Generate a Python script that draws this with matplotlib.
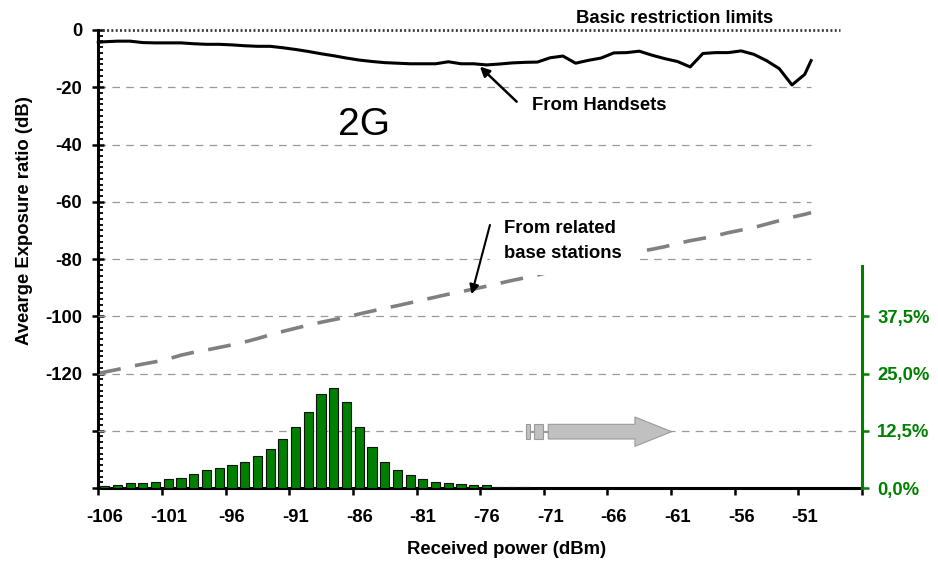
import numpy as np
import matplotlib
matplotlib.use("Agg")
import matplotlib.pyplot as plt
from matplotlib.patches import Polygon, Rectangle
from matplotlib.ticker import FixedLocator, MultipleLocator, NullFormatter

plt.rcParams['font.family'] = ['Liberation Sans', 'DejaVu Sans']
plt.rcParams['lines.scale_dashes'] = False

# ---- data -------------------------------------------------------------
# 1 dBm received-power bins (lower edge) and share of samples per bin (%)
power_bins = np.arange(-106, -46)
share_pct = [0.52, 0.74, 1.04, 1.04, 1.34, 1.86, 2.08, 3.13, 3.94, 4.39,
             4.99, 5.73, 6.99, 8.56, 10.64, 13.24, 16.67, 20.6, 21.9, 18.75,
             13.24, 8.85, 5.6, 3.87, 2.9, 2.0, 1.34, 1.04, 0.78, 0.6,
             0.6, 0.3, 0.22, 0.22, 0.1, 0.08, 0.06, 0.05, 0.04, 0.03,
             0.02]
share_pct = share_pct + [0.0] * (len(power_bins) - len(share_pct))

# exposure ratio curves (dB) vs received power (dBm)
line_x = [-106.0] + list(np.arange(-105.5, -50.0, 1.0)) + [-50.0]
handset_db = [-4.3,
              -4.1, -3.9, -3.9, -4.4, -4.5, -4.5, -4.5, -4.8, -5.0, -5.0,
              -5.2, -5.5, -5.7, -5.7, -6.2, -6.8, -7.5, -8.3, -9.0, -9.8,
              -10.5, -11.0, -11.4, -11.6, -11.8, -11.8, -11.8, -11.1, -11.8, -11.8,
              -12.2, -11.9, -11.5, -11.3, -11.2, -9.7, -9.1, -11.6, -10.6, -9.8,
              -8.0, -7.9, -7.4, -8.8, -10.0, -11.0, -12.9, -8.2, -7.9, -7.9,
              -7.3, -8.5, -10.7, -13.5, -19.2, -15.5,
              -10.7]
base_db = [-120.0,
           -119.5, -118.6, -117.6, -116.7, -115.9, -114.9, -113.6, -112.6, -111.8, -110.9,
           -110.0, -109.0, -107.8, -106.5, -105.3, -104.2, -103.1, -102.1, -101.2, -100.3,
           -99.2, -98.2, -97.2, -96.3, -95.3, -94.3, -93.3, -92.3, -91.4, -90.5,
           -89.5, -88.5, -87.5, -86.6, -85.6, -84.5, -83.3, -82.2, -81.1, -80.0,
           -79.0, -78.2, -77.4, -76.6, -75.7, -74.6, -73.6, -72.8, -71.9, -70.8,
           -69.9, -69.0, -67.8, -66.6, -65.4, -64.4,
           -63.8]
limit_db = 0.0
limit_x = [-106.0, -47.7]

x_tick_edges = np.arange(-106, -45, 5)
x_tick_labels = [str(v) for v in range(-106, -50, 5)]
y_ticks = np.arange(-160, 1, 20)
y_tick_labels = ['', '', '-120', '-100', '-80', '-60', '-40', '-20', '0']
pct_ticks = [0, 12.5, 25, 37.5]
pct_tick_labels = ['0,0%', '12,5%', '25,0%', '37,5%']

GREEN = '#008000'
FS = 13.3

# ---- figure -------------------------------------------------------------
fig = plt.figure(figsize=(9.38, 5.69), dpi=100)
ax = fig.add_axes([98.3 / 938, (569 - 488) / 569, 763.7 / 938, 458 / 569])
ax2 = ax.twinx()
ax.set_xlim(-106, -46)
ax.set_ylim(-160, 0)
ax2.set_ylim(0, 100)

ax.patch.set_visible(False)

# grid lines of the exposure chart
ax.hlines([-20, -40, -60, -80], -106, -50, colors='#999999',
          linestyles=(0, (5.5, 4.5)), lw=0.9, zorder=1)
# grid lines of the histogram
ax2.hlines(pct_ticks[1:], -106, -46, colors='#999999',
           linestyles=(0, (5.5, 4.5)), lw=0.9, zorder=1)

# histogram
ax2.bar(power_bins + 0.5, share_pct, width=0.72, color=GREEN,
        edgecolor='#111111', lw=0.8, zorder=3)

# curves
ax.hlines(limit_db, limit_x[0], limit_x[1], colors='#3a3a3a',
          linestyles=(0, (1.4, 1.7)), lw=2.0, zorder=4, clip_on=False)
ax.plot(line_x, handset_db, color='black', lw=2.2, zorder=5,
        solid_joinstyle='round', clip_on=False)
ax.plot(line_x, base_db, color='#808080', lw=2.6, zorder=5,
        linestyle=(0, (16.5, 10.5)), clip_on=False)

# spines
for s in ['top', 'right']:
    ax.spines[s].set_visible(False)
for s in ['top', 'left', 'bottom']:
    ax2.spines[s].set_visible(False)
ax.spines['left'].set_linewidth(2.2)
ax.spines['bottom'].set_linewidth(2.2)
ax.spines['left'].set_zorder(6)
ax.spines['bottom'].set_zorder(6)
ax2.spines['right'].set_color(GREEN)
ax2.spines['right'].set_linewidth(2.2)
ax2.spines['right'].set_bounds(0, 48.4)

# y ticks (dB)
ax.yaxis.set_major_locator(FixedLocator(y_ticks))
ax.set_yticklabels(y_tick_labels)
ax.yaxis.set_minor_locator(MultipleLocator(2))
ax.tick_params(axis='y', which='major', direction='inout', length=8, width=1.8,
               pad=7.5, labelsize=FS)
ax.tick_params(axis='y', which='minor', direction='in', length=3.5, width=1.3)

# x ticks: marks at bin edges, labels at bin centres
ax.xaxis.set_major_locator(FixedLocator(x_tick_edges))
ax.xaxis.set_major_formatter(NullFormatter())
ax.xaxis.set_minor_locator(FixedLocator(np.arange(-106, -50, 5) + 0.5))
ax.set_xticklabels(x_tick_labels, minor=True)
ax.tick_params(axis='x', which='major', direction='out', length=5, width=1.8)
ax.tick_params(axis='x', which='minor', length=0, pad=15, labelsize=FS)

for lab in ax.get_yticklabels() + ax.get_xticklabels(minor=True):
    lab.set_fontweight('bold')

# percentage ticks
ax2.yaxis.set_major_locator(FixedLocator(pct_ticks))
ax2.set_yticklabels(pct_tick_labels)
ax2.tick_params(axis='y', which='major', direction='out', length=5, width=1.8,
                color=GREEN, labelcolor=GREEN, pad=6, labelsize=FS)
for lab in ax2.get_yticklabels():
    lab.set_fontweight('bold')

# axis titles
fig.text(507 / 938, 1 - 550 / 569, 'Received power (dBm)', ha='center',
         va='center', fontsize=FS, fontweight='bold')
fig.text(25 / 938, 1 - 221 / 569, 'Avearge Exposure ratio (dB)', ha='center',
         va='center', rotation=90, fontsize=FS, fontweight='bold')

# annotations
ax.text(-53.0, 2.34, 'Basic restriction limits', ha='right', va='baseline',
        fontsize=FS, fontweight='bold')
ax.text(-85.13, -33.2, '2G', ha='center', va='center', fontsize=28)

ax.annotate('', xy=(-76.02, -12.8), xytext=(-73.13, -25.05),
            arrowprops=dict(arrowstyle='-|>', color='black', lw=1.8,
                            mutation_scale=14, shrinkA=0, shrinkB=0), zorder=6)
ax.text(-71.95, -27.9, 'From Handsets', ha='left', va='baseline',
        fontsize=FS, fontweight='bold', zorder=6)

# label box for the base-station curve
ax.add_patch(Rectangle((-75.23, -85.6), 11.78, 22.7, facecolor='white',
                       edgecolor='none', zorder=5.5))
ax.text(-74.13, -71.0, 'From related', ha='left', va='baseline',
        fontsize=FS, fontweight='bold', zorder=6)
ax.text(-74.13, -79.8, 'base stations', ha='left', va='baseline',
        fontsize=FS, fontweight='bold', zorder=6)
ax.annotate('', xy=(-76.67, -92.3), xytext=(-75.23, -68.1),
            arrowprops=dict(arrowstyle='-|>', color='black', lw=1.5,
                            mutation_scale=14, shrinkA=0, shrinkB=0), zorder=6)

# grey block arrow along the 12,5% line
arrow_kw = dict(facecolor='#c0c0c0', edgecolor='#9a9a9a', lw=0.8, zorder=4)
yc = 12.3
ax2.plot([-72.40, -70.65], [yc, yc], color='#9a9a9a', lw=0.8, zorder=3.9)
ax2.add_patch(Rectangle((-72.40, yc - 1.6), 0.31, 3.2, **arrow_kw))
ax2.add_patch(Rectangle((-71.77, yc - 1.6), 0.73, 3.2, **arrow_kw))
ax2.add_patch(Polygon([(-70.65, yc - 1.6), (-63.84, yc - 1.6), (-63.84, yc - 3.2),
                       (-60.96, yc), (-63.84, yc + 3.2), (-63.84, yc + 1.6),
                       (-70.65, yc + 1.6)], closed=True, **arrow_kw))

fig.savefig('out.png', dpi=100)
